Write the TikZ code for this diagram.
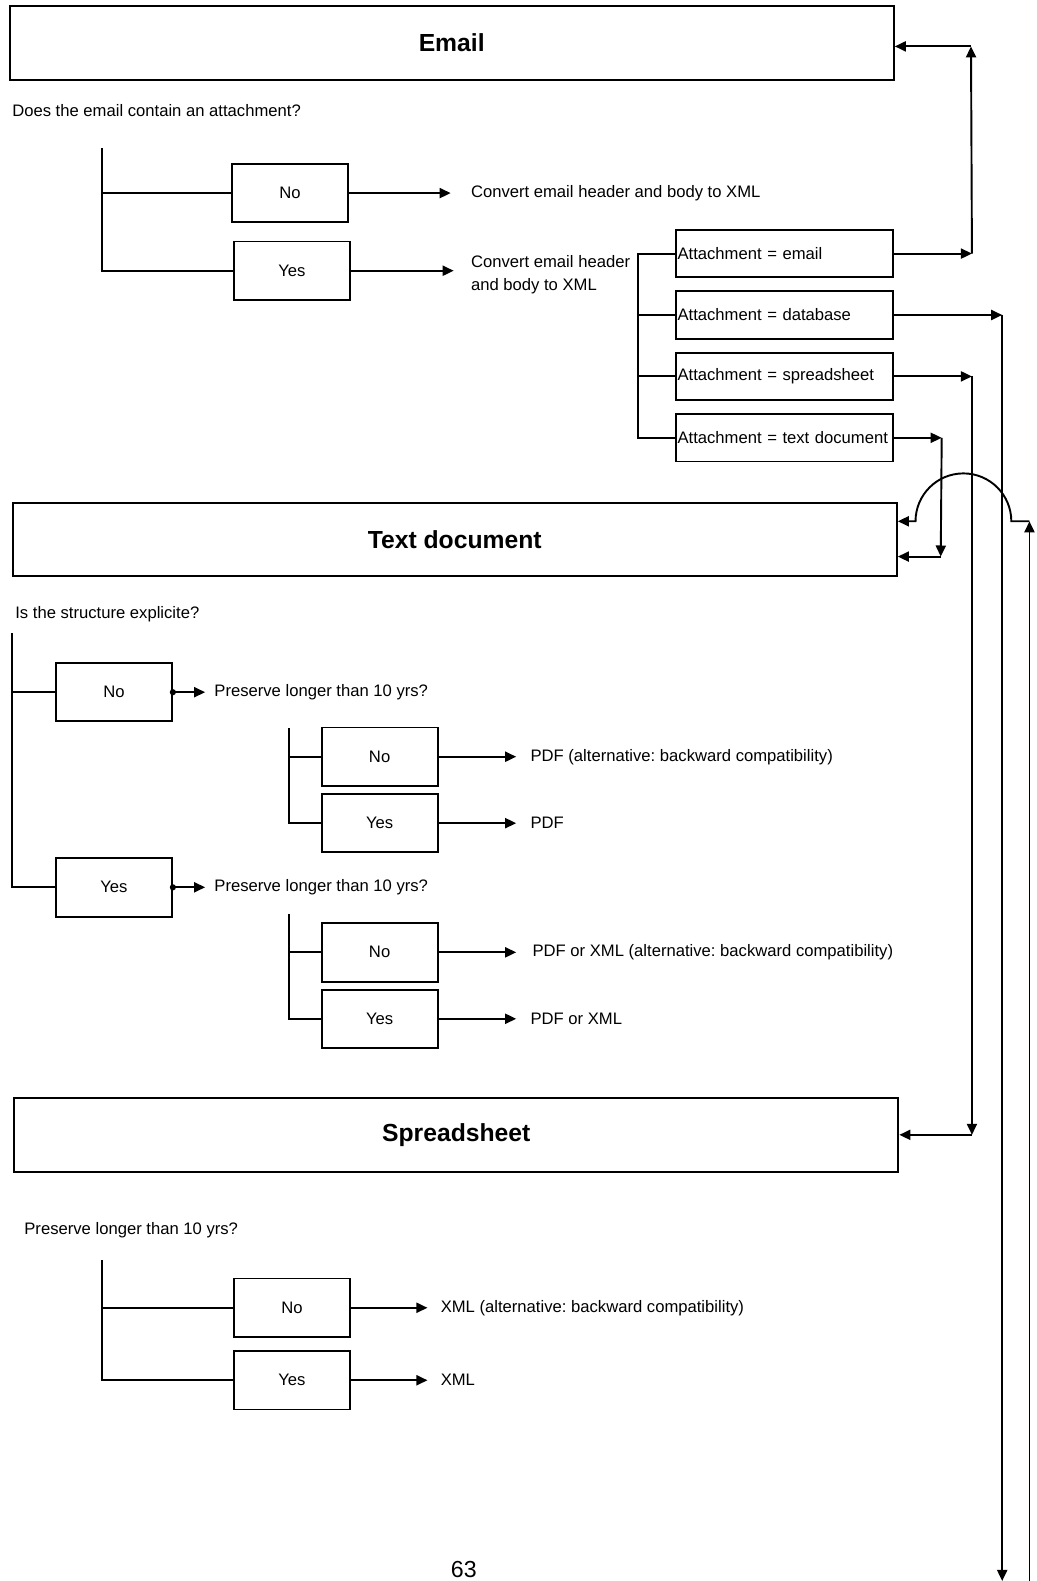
\documentclass[tikz,border=0pt]{standalone}
\usepackage{fontspec}
\setmainfont{Liberation Sans}
\usetikzlibrary{arrows.meta,positioning}
\frenchspacing
\newcommand{\bodysize}{\fontsize{16.5}{23}\selectfont}
\tikzstyle{section} = [rectangle, draw, line width=1.9pt, minimum width=877pt, minimum height=73pt, font=\fontsize{24.5}{28}\selectfont\bfseries]
\tikzstyle{choice} = [rectangle, draw, line width=1.9pt, minimum width=115pt, minimum height=58pt, font=\bodysize]
\tikzstyle{attach} = [rectangle, draw, line width=1.9pt, minimum height=47pt, text width=212pt, inner xsep=2pt, align=left, font=\bodysize]
\tikzstyle{note} = [inner sep=0pt, align=left, font=\bodysize]
\tikzstyle{line} = [line width=1.9pt]
\tikzstyle{arrow} = [line width=1.9pt, -{Triangle[length=11pt,width=10pt]}]
\tikzstyle{dotarrow} = [line width=1.9pt, {Circle[length=6pt]}-{Triangle[length=11pt,width=10pt]}, shorten <=-3pt]

\begin{document}
\begin{tikzpicture}[x=1pt, y=-1pt]
\useasboundingbox (0,0) rectangle (1028,1568);

% Email
\node[section] (email) at (448,42.5) {Email};
\node[note, anchor=west] (eQuest) at (12,110) {Does the email contain an attachment?};
\node[choice] (eNo) at (287.5,191.5) {No};
\node[choice] (eYes) at (289.5,268.5) {Yes};
\coordinate (eBr) at (101,147);
\draw[line] (eBr) |- (eYes.west);
\draw[line] (eBr |- eNo.west) -- (eNo.west);
\node[note, right=121pt of eNo] (eNoTxt) {Convert email header and body to XML};
\node[note, right=119pt of eYes, yshift=-4pt] (eYesTxt) {Convert email header\\and body to XML};
\draw[arrow, shorten >=20pt] (eNo.east) -- (eNoTxt.west);
\draw[arrow, shorten >=17pt] (eYes.east) -- (eYesTxt.west |- eYes.east);

% Attachment types
\node[attach] (attEmail) at (778,251.5) {Attachment = email};
\node[attach, below=12pt of attEmail] (attData) {Attachment = database};
\node[attach, below=12pt of attData] (attSheet) {Attachment = spreadsheet};
\node[attach, below=12pt of attSheet] (attText) {Attachment = text document};
\draw[line] (attEmail.west) -- ++(-36,0) |- (attText.west);
\draw[line] (attData.west) -- ++(-36,0);
\draw[line] (attSheet.west) -- ++(-36,0);

% Text document
\node[section] (textdoc) at (451,535) {Text document};
\node[note, anchor=west] (tQuest) at (15,609) {Is the structure explicite?};
\node[choice] (tNo) at (113,686.5) {No};
\node[choice] (tYes) at (113,880) {Yes};
\coordinate (tBr) at (12,628);
\draw[line] (tBr) |- (tYes.west);
\draw[line] (tBr |- tNo.west) -- (tNo.west);
\node[note, right=41pt of tNo] (tPres1) {Preserve longer than 10 yrs?};
\node[note, right=41pt of tYes] (tPres2) {Preserve longer than 10 yrs?};
\draw[dotarrow, shorten >=9pt] (tNo.east) -- (tPres1.west);
\draw[dotarrow, shorten >=9pt] (tYes.east) -- (tPres2.west);

\node[choice] (tNo1) at (376.5,750.5) {No};
\node[choice, below=6pt of tNo1] (tYes1) {Yes};
\coordinate (tBr1) at (287,722);
\draw[line] (tBr1) |- (tYes1.west);
\draw[line] (tBr1 |- tNo1.west) -- (tNo1.west);
\node[note, right=91pt of tNo1] (tNo1Txt) {PDF (alternative: backward compatibility)};
\node[note, right=91pt of tYes1] (tYes1Txt) {PDF};
\draw[arrow, shorten >=14pt] (tNo1.east) -- (tNo1Txt.west);
\draw[arrow, shorten >=14pt] (tYes1.east) -- (tYes1Txt.west);

\node[choice] (tNo2) at (376.5,944.5) {No};
\node[choice, below=6pt of tNo2] (tYes2) {Yes};
\coordinate (tBr2) at (287,906);
\draw[line] (tBr2) |- (tYes2.west);
\draw[line] (tBr2 |- tNo2.west) -- (tNo2.west);
\node[note, right=93pt of tNo2] (tNo2Txt) {PDF or XML (alternative: backward compatibility)};
\node[note, right=91pt of tYes2] (tYes2Txt) {PDF or XML};
\draw[arrow, shorten >=16pt] (tNo2.east) -- (tNo2Txt.west);
\draw[arrow, shorten >=14pt] (tYes2.east) -- (tYes2Txt.west);

% Spreadsheet
\node[section] (sheet) at (452.5,1125.5) {Spreadsheet};
\node[note, anchor=west] (sQuest) at (24,1220) {Preserve longer than 10 yrs?};
\node[choice] (sNo) at (289.5,1297) {No};
\node[choice, below=12pt of sNo] (sYes) {Yes};
\coordinate (sBr) at (101,1250);
\draw[line] (sBr) |- (sYes.west);
\draw[line] (sBr |- sNo.west) -- (sNo.west);
\node[note, right=89pt of sNo] (sNoTxt) {XML (alternative: backward compatibility)};
\node[note, right=89pt of sYes] (sYesTxt) {XML};
\draw[arrow, shorten >=13pt] (sNo.east) -- (sNoTxt.west);
\draw[arrow, shorten >=13pt] (sYes.east) -- (sYesTxt.west);

% Links from the attachments
\path (attEmail.east) ++(77,0) coordinate (eCorner);
\coordinate (eTop) at (963,46);
\draw[arrow] (attEmail.east) -- (eCorner);
\draw[arrow] (eCorner) -- (eTop);
\draw[arrow] (eTop) -- (email.east |- eTop);

\path (attData.east) ++(107,0) coordinate (dCorner);
\coordinate (dEnd) at (993,1568);
\draw[arrow] (attData.east) -- (dCorner);
\draw[arrow] (dCorner) -- (dCorner |- dEnd);

\path (attSheet.east) ++(77,0) coordinate (sCorner);
\draw[arrow] (attSheet.east) -- (sCorner);
\draw[arrow] (sCorner) -- (sCorner |- sheet.east);
\draw[arrow] (sCorner |- sheet.east) -- (sheet.east);

\path (attText.east) ++(47,0) coordinate (tCorner);
\coordinate (tLow) at (933,552);
\draw[arrow] (attText.east) -- (tCorner);
\draw[arrow] (tCorner) -- (tLow);
\draw[arrow] (tLow) -- (textdoc.east |- tLow);

% Link coming from below
\coordinate (bStart) at (1021,1568);
\coordinate (bTop) at (1021,517);
\draw[arrow] (bStart) -- (bTop);
\draw[arrow] (bTop) -- ++(-18,0) arc[start angle=0, end angle=180, radius=47.5pt] -- (textdoc.east |- bTop);

% Page number
\node[font=\fontsize{23}{26}\selectfont] (page) at (460,1557) {63};
\end{tikzpicture}
\end{document}
